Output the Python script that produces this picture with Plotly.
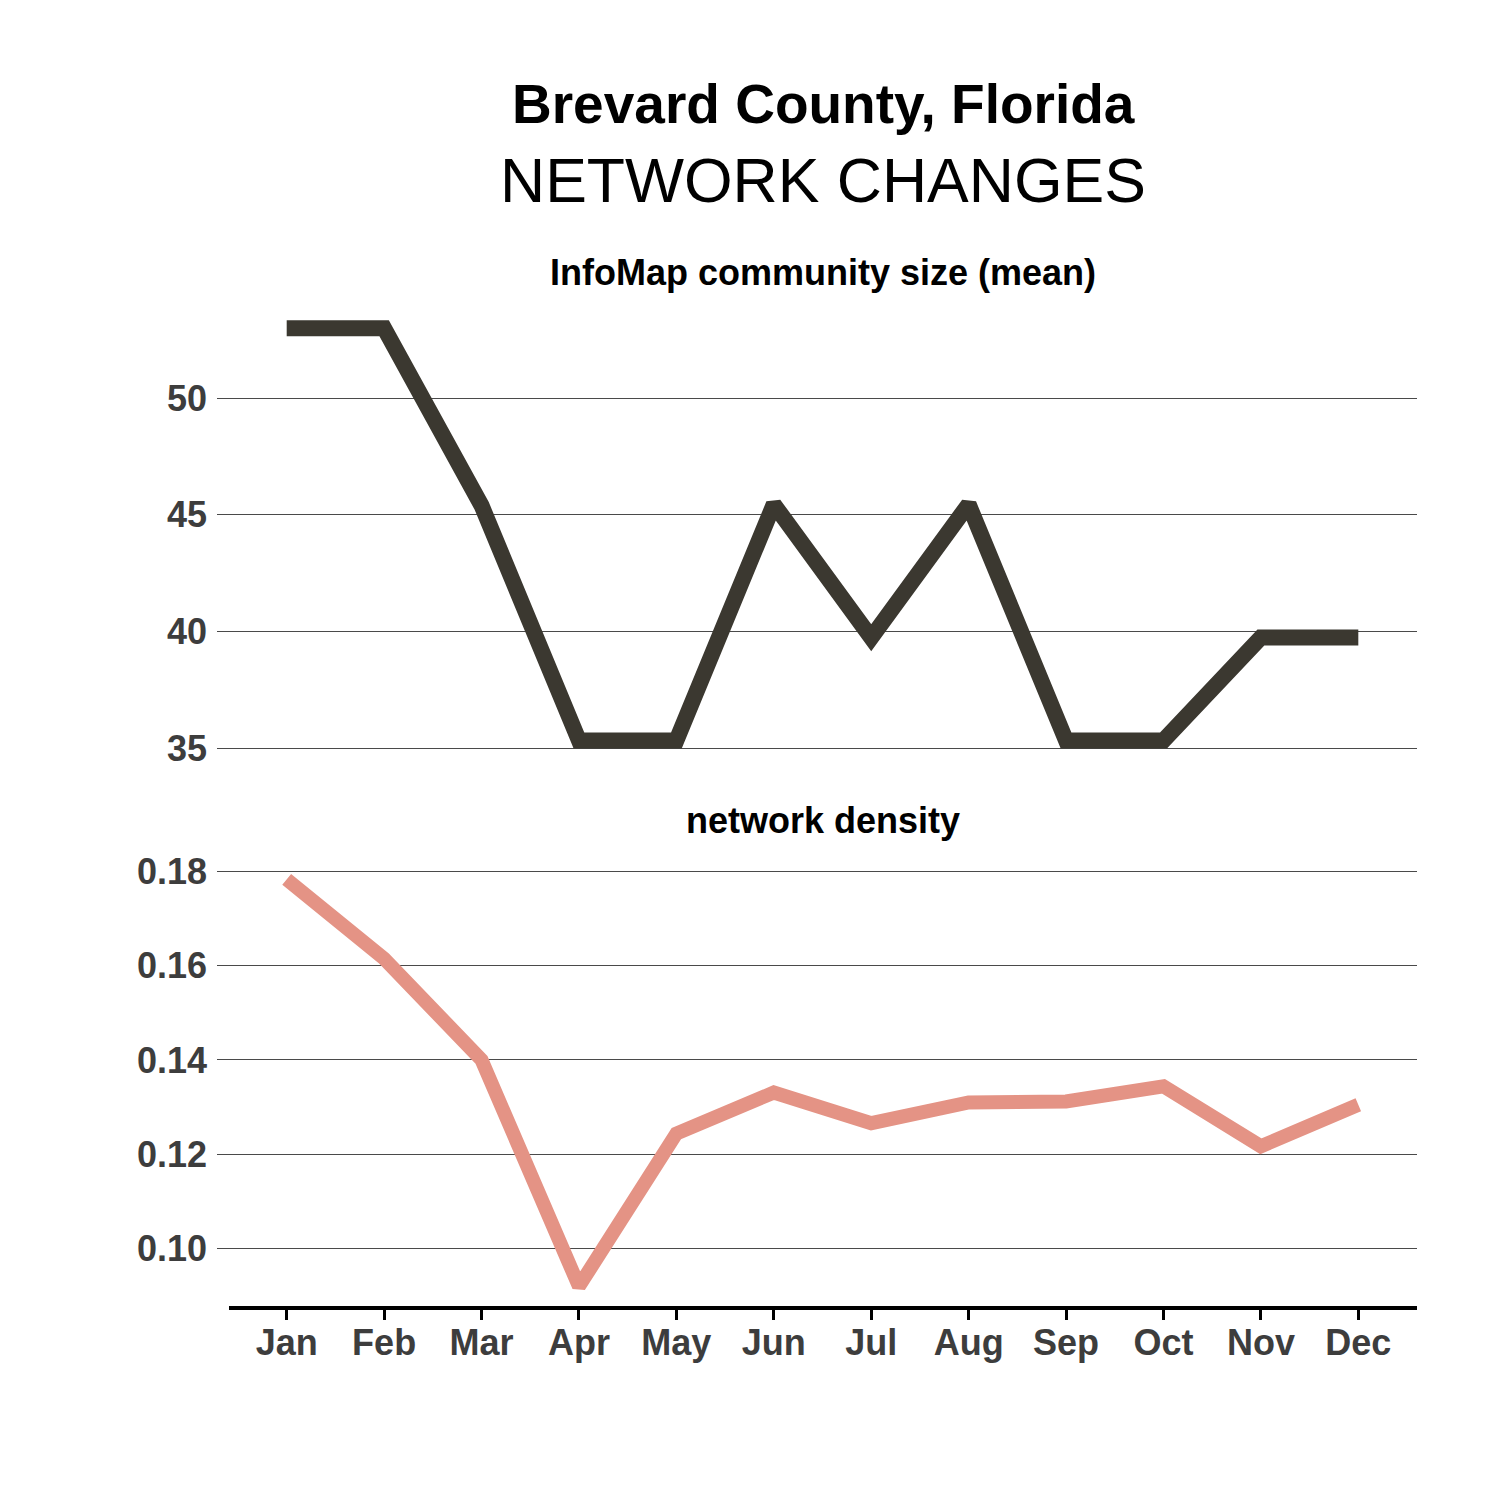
import plotly.graph_objects as go

months = ["Jan", "Feb", "Mar", "Apr", "May", "Jun", "Jul", "Aug", "Sep", "Oct", "Nov", "Dec"]
community_size = [53.0, 53.0, 45.4, 35.33, 35.33, 45.45, 39.74, 45.45, 35.33, 35.33, 39.74, 39.74]
density = [0.1783, 0.1615, 0.1400, 0.0920, 0.1244, 0.1331, 0.1266, 0.1310, 0.1312, 0.1344, 0.1217, 0.1305]

size_ticks = [35, 40, 45, 50]
density_ticks = [0.10, 0.12, 0.14, 0.16, 0.18]

x_idx = list(range(len(months)))
W = H = 1500.0

def px_x(p):
    return p / W

def px_y(p):
    return 1 - p / H

FONT = "Liberation Sans, Arial, Helvetica, sans-serif"
TICK_COLOR = "#3d3d3d"
GRID_COLOR = "#4a4a4a"

fig = go.Figure()
fig.add_trace(go.Scatter(x=x_idx, y=community_size, mode="lines",
                         line=dict(color="#3b3830", width=16),
                         xaxis="x", yaxis="y", showlegend=False))
fig.add_trace(go.Scatter(x=x_idx, y=density, mode="lines",
                         line=dict(color="#e49385", width=14),
                         xaxis="x2", yaxis="y2", showlegend=False))

xdom = [px_x(217), px_x(1417)]
xrange = [-0.7155, 11.6025]

common_y = dict(showline=False, zeroline=False, showgrid=True, gridcolor=GRID_COLOR,
                gridwidth=1.2, ticks="", ticklabelstandoff=9, automargin=False,
                tickfont=dict(family=FONT, size=36, color=TICK_COLOR, weight="bold"))

fig.update_layout(
    width=1500, height=1500,
    margin=dict(l=0, r=0, t=0, b=0),
    paper_bgcolor="white", plot_bgcolor="white",
    font=dict(family=FONT),
    xaxis=dict(domain=xdom, range=xrange, anchor="y", showticklabels=False,
               showgrid=False, zeroline=False, showline=False, ticks="", automargin=False),
    yaxis=dict(domain=[px_y(765), px_y(300)], range=[34.28, 54.21], anchor="x",
               tickvals=size_ticks, ticktext=[str(v) for v in size_ticks], **common_y),
    xaxis2=dict(domain=xdom, range=xrange, anchor="y2", tickvals=x_idx, ticktext=months,
                showgrid=False, zeroline=False, showline=False, ticks="outside",
                ticklen=12, tickwidth=3, tickcolor="black", ticklabelstandoff=-8,
                automargin=False,
                tickfont=dict(family=FONT, size=36, color=TICK_COLOR, weight="bold")),
    yaxis2=dict(domain=[px_y(1307), px_y(850)], range=[0.08762, 0.18452], anchor="x2",
                tickvals=density_ticks, ticktext=[f"{v:.2f}" for v in density_ticks], **common_y),
)

# bottom axis line
fig.add_shape(type="line", xref="paper", yref="paper",
              x0=px_x(229), x1=px_x(1417), y0=px_y(1308), y1=px_y(1308),
              line=dict(color="black", width=4), layer="above")

cx = px_x(823)
fig.add_annotation(text="<b>Brevard County, Florida</b>", x=cx, y=px_y(104), xref="paper", yref="paper",
                   xanchor="center", yanchor="middle", showarrow=False,
                   font=dict(family=FONT, size=55, color="black"))
fig.add_annotation(text="NETWORK CHANGES", x=cx, y=px_y(179.5), xref="paper", yref="paper",
                   xanchor="center", yanchor="middle", showarrow=False,
                   font=dict(family=FONT, size=62.5, color="black"))
fig.add_annotation(text="<b>InfoMap community size (mean)</b>", x=cx, y=px_y(273), xref="paper", yref="paper",
                   xanchor="center", yanchor="middle", showarrow=False,
                   font=dict(family=FONT, size=36, color="black"))
fig.add_annotation(text="<b>network density</b>", x=cx, y=px_y(820), xref="paper", yref="paper",
                   xanchor="center", yanchor="middle", showarrow=False,
                   font=dict(family=FONT, size=36, color="black"))

fig.write_html("out.html")
